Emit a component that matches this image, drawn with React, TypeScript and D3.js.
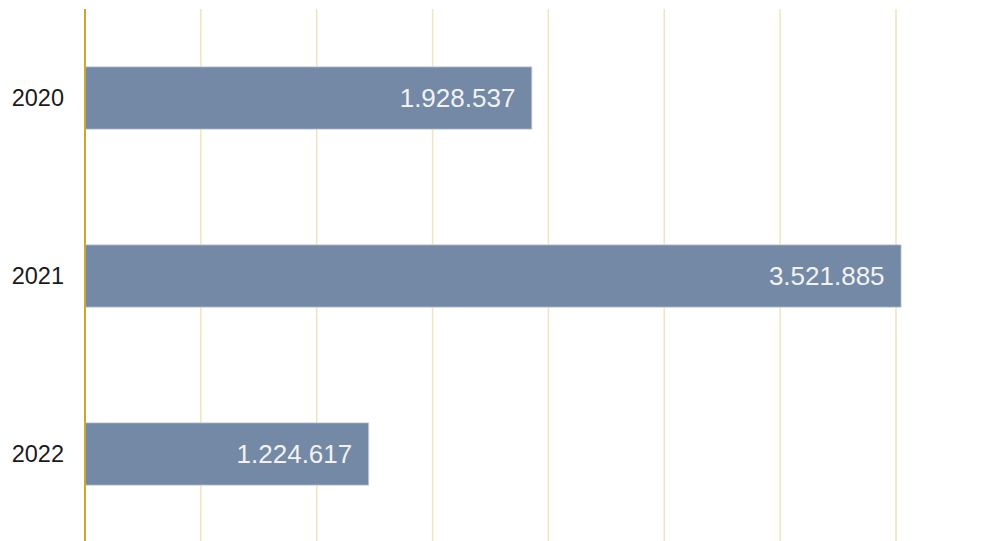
import React from "react";
import * as d3 from "d3";

const categories = ["2020", "2021", "2022"];
const values = [1928537, 3521885, 1224617];
const tickValues = [0, 500000, 1000000, 1500000, 2000000, 2500000, 3000000, 3500000];

const W = 1003;
const H = 541;

export default function App() {
  const x = d3.scaleLinear().domain([0, 3500000]).range([85, 896]);
  const y = d3
    .scaleBand<string>()
    .domain(categories)
    .range([9, 543])
    .paddingInner(0.65)
    .paddingOuter(0.325);
  const fmt = (v: number) => d3.format(",")(v).replace(/,/g, ".");
  const font = "'Liberation Sans', Arial, sans-serif";

  return (
    <svg
      width={W}
      height={H}
      style={{ position: "absolute", left: 0, top: 0, background: "#fff" }}
    >
      {tickValues.slice(1).map((t) => (
        <line
          key={t}
          x1={x(t)}
          x2={x(t)}
          y1={9}
          y2={H}
          stroke="#F0E5BC"
          strokeWidth={1.5}
        />
      ))}
      {categories.map((c, i) => (
        <g key={c}>
          <rect
            x={x(0)}
            y={y(c)}
            width={x(values[i]) - x(0)}
            height={y.bandwidth()}
            fill="#7389A6"
            stroke="#C9D2DE"
            strokeWidth={0.8}
          />
          <text
            x={x(values[i]) - 16.5}
            y={(y(c) as number) + y.bandwidth() / 2}
            dy="0.36em"
            textAnchor="end"
            fill="#F2F2F2"
            fontFamily={font}
            fontSize={26}
          >
            {fmt(values[i])}
          </text>
          <text
            x={64}
            y={(y(c) as number) + y.bandwidth() / 2}
            dy="0.36em"
            textAnchor="end"
            fill="#1a1a1a"
            fontFamily={font}
            fontSize={23.5}
          >
            {c}
          </text>
        </g>
      ))}
      <line x1={x(0)} x2={x(0)} y1={9} y2={H} stroke="#C9A82C" strokeWidth={2} />
    </svg>
  );
}
